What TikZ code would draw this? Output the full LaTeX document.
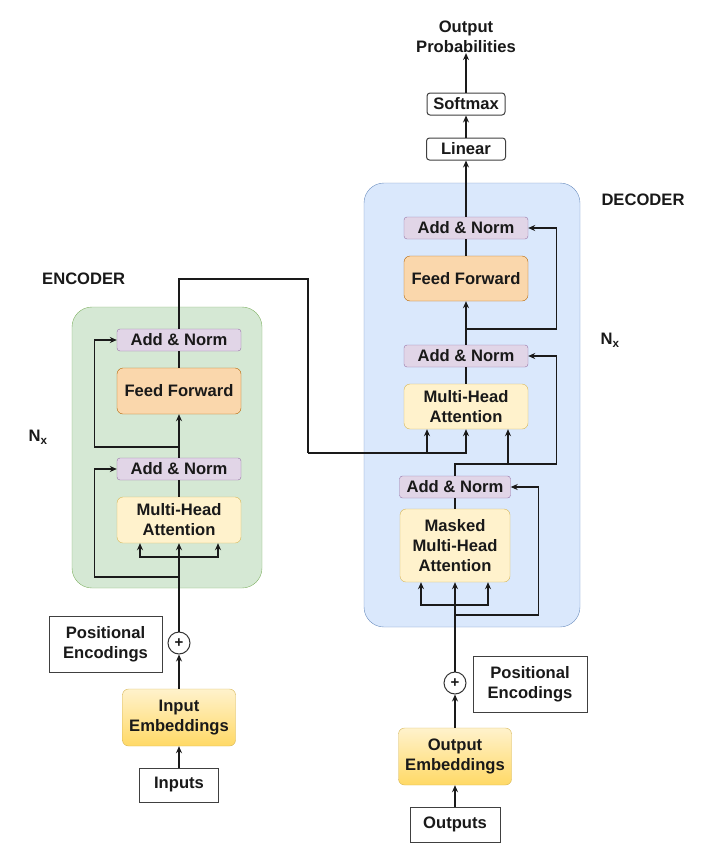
\documentclass[tikz,border=0pt]{standalone}
\usepackage{fontspec}
\setmainfont{Liberation Sans}
\usepackage{tikz}
\usetikzlibrary{arrows.meta}
\definecolor{encfill}{HTML}{D5E8D4}
\definecolor{encline}{HTML}{82B366}
\definecolor{decfill}{HTML}{DAE8FC}
\definecolor{decline}{HTML}{6C8EBF}
\definecolor{normfill}{HTML}{E1D5E7}
\definecolor{normline}{HTML}{9673A6}
\definecolor{fffill}{HTML}{FAD7AC}
\definecolor{ffline}{HTML}{B46504}
\definecolor{attfill}{HTML}{FFF2CC}
\definecolor{attline}{HTML}{D6B656}
\definecolor{embfill}{HTML}{FFD966}
\definecolor{wire}{HTML}{1A1A1A}

\begin{document}
\begin{tikzpicture}[x=1pt,y=-1pt,
	every node/.style={font=\bfseries\fontsize{16.6}{20}\selectfont, align=center, inner sep=0pt, text=black!90},
	normbox/.style={draw=normline, fill=normfill, rounded corners=3pt, minimum height=22pt},
	ffbox/.style={draw=ffline, fill=fffill, rounded corners=6pt, minimum height=46pt},
	attbox/.style={draw=attline, fill=attfill, rounded corners=6pt},
	embbox/.style={draw=attline, top color=attfill, bottom color=embfill, rounded corners=6pt, minimum width=113pt, minimum height=57pt},
	plainbox/.style={draw=black!75, fill=white, line width=1pt},
	smallbox/.style={draw=black!75, fill=white, rounded corners=3pt, minimum height=22pt, line width=1pt},
	sumnode/.style={circle, draw=black!80, fill=white, line width=1pt, minimum size=22pt, font=\bfseries\fontsize{15}{15}\selectfont},
	wirel/.style={draw=wire, line width=1.1pt},
	arr/.style={wirel, -{Stealth[length=7pt,width=6pt]}}]
	\useasboundingbox (0,0) rectangle (702,846);
	% blocks
	\draw[draw=encline, fill=encfill, rounded corners=20pt] (72,307) rectangle (262,588);
	\draw[draw=decline, fill=decfill, rounded corners=20pt] (364,183) rectangle (580,627);
	\node[anchor=west] (enctitle) at (42,279) {ENCODER};
	\node (dectitle) at (643,200) {DECODER};
	\node (encn) at (38,437) {N\textsubscript{x}};
	\node (decn) at (610,340) {N\textsubscript{x}};

	% encoder
	\node[plainbox, minimum width=79pt, minimum height=34pt] (inputs) at (179,785) {Inputs};
	\node[embbox] (encemb) at (179,717.5) {Input\\Embeddings};
	\node[sumnode] (encsum) at (179,643) {+};
	\node[plainbox, minimum width=113pt, minimum height=56pt] (encpos) at (105.5,644) {Positional\\Encodings};
	\node[attbox, minimum width=124pt, minimum height=46pt] (encmha) at (179,520) {Multi-Head\\Attention};
	\node[normbox, minimum width=124pt] (encan1) at (179,469) {Add \& Norm};
	\node[ffbox, minimum width=124pt] (encff) at (179,391) {Feed Forward};
	\node[normbox, minimum width=124pt] (encan2) at (179,340) {Add \& Norm};

	% decoder
	\node[plainbox, minimum width=90pt, minimum height=35pt] (outputs) at (455,824.5) {Outputs};
	\node[embbox] (decemb) at (455,756.5) {Output\\Embeddings};
	\node[sumnode] (decsum) at (455,683) {+};
	\node[plainbox, minimum width=114pt, minimum height=56pt] (decpos) at (530,684) {Positional\\Encodings};
	\node[attbox, minimum width=110pt, minimum height=73pt] (decmmha) at (455,545.5) {Masked\\Multi-Head\\Attention};
	\node[normbox, minimum width=111pt] (decan1) at (455,487) {Add \& Norm};
	\node[attbox, minimum width=124pt, minimum height=45pt] (decmha) at (466,406.5) {Multi-Head\\Attention};
	\node[normbox, minimum width=124pt] (decan2) at (466,356) {Add \& Norm};
	\node[ffbox, minimum width=124pt, minimum height=45pt] (decff) at (466,278.5) {Feed Forward};
	\node[normbox, minimum width=124pt] (decan3) at (466,228) {Add \& Norm};
	\node[smallbox, minimum width=79pt] (linear) at (466,149) {Linear};
	\node[smallbox, minimum width=78pt] (softmax) at (466,104) {Softmax};
	\node (outprob) at (466,37) {Output\\Probabilities};

	% junctions
	\coordinate (esplit) at (179,557);
	\coordinate (eres1) at (179,577);
	\coordinate (eres2) at (179,447);
	\coordinate (eout) at (179,279);
	\coordinate (ebend) at (308,279);
	\coordinate (ekv) at (308,453);
	\coordinate (dsplit) at (455,605);
	\coordinate (dres1) at (455,615);
	\coordinate (dq) at (455,464);
	\coordinate (dres3) at (466,329);

	% encoder wires
	\draw[arr] (inputs) -- (encemb);
	\draw[arr] (encemb) -- (encsum);
	\draw[arr] (encsum) -- (encmha);
	\draw[arr] (esplit) -| ([xshift=-39pt]encmha.south);
	\draw[arr] (esplit) -| ([xshift=39pt]encmha.south);
	\draw[arr] (eres1) -| ([xshift=-22pt]encan1.west) -- (encan1);
	\draw[wirel] (encmha) -- (encan1);
	\draw[arr] (encan1) -- (encff);
	\draw[arr] (eres2) -| ([xshift=-22pt]encan2.west) -- (encan2);
	\draw[wirel] (encff) -- (encan2);
	\draw[wirel] (encan2) -- (eout) -- (ebend) -- (ekv);
	\draw[arr] (ekv) -| ([xshift=-39pt]decmha.south);
	\draw[arr] (ekv) -| (decmha.south);

	% decoder wires
	\draw[arr] (outputs) -- (decemb);
	\draw[arr] (decemb) -- (decsum);
	\draw[arr] (decsum) -- (decmmha);
	\draw[arr] (dsplit) -| ([xshift=-34pt]decmmha.south);
	\draw[arr] (dsplit) -| ([xshift=33pt]decmmha.south);
	\draw[arr] (dres1) -| ([xshift=28pt]decan1.east) -- (decan1);
	\draw[wirel] (decmmha) -- (decan1);
	\draw[arr] (decan1) -- (dq) -| ([xshift=28pt]decan2.east) -- (decan2);
	\draw[arr] (dq) -| ([xshift=42pt]decmha.south);
	\draw[wirel] (decmha) -- (decan2);
	\draw[arr] (decan2) -- (decff);
	\draw[arr] (dres3) -| ([xshift=28pt]decan3.east) -- (decan3);
	\draw[wirel] (decff) -- (decan3);
	\draw[arr] (decan3) -- (linear);
	\draw[arr] (linear) -- (softmax);
	\draw[arr] (softmax) -- (outprob);
\end{tikzpicture}
\end{document}
